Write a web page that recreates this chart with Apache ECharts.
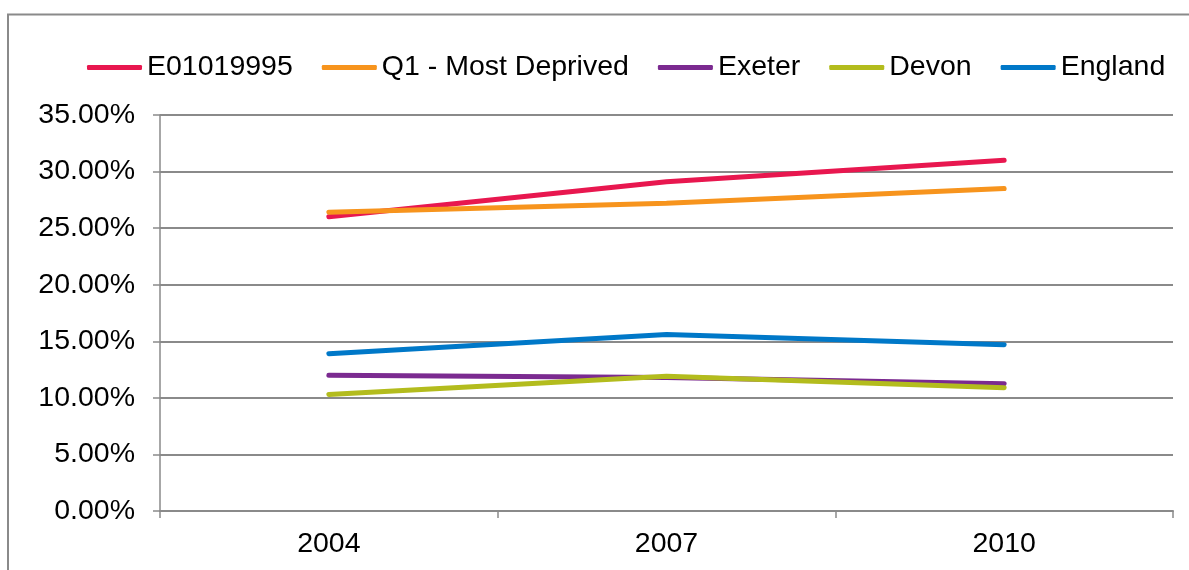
<!DOCTYPE html>
<html><head><meta charset="utf-8">
<script src="https://cdn.jsdelivr.net/npm/echarts@6/dist/echarts.min.js"></script>
<style>html,body{margin:0;padding:0;background:#fff}#c{width:1189px;height:570px}</style>
</head><body><div id="c"></div>
<script>
const categories = ['2004', '2007', '2010'];
const seriesNames = ['E01019995', 'Q1 - Most Deprived', 'Exeter', 'Devon', 'England'];
const e01019995 = [26.0, 29.1, 31.0];
const q1MostDeprived = [26.4, 27.2, 28.5];
const exeter = [12.0, 11.8, 11.25];
const devon = [10.3, 11.9, 10.9];
const england = [13.9, 15.6, 14.7];
const yTicks = [0, 5, 10, 15, 20, 25, 30, 35];
const colors = ['#E8174F', '#F7941D', '#7B2A90', '#B3BC1D', '#0078C8'];
const values = [e01019995, q1MostDeprived, exeter, devon, england];

const font = 'Liberation Sans, Arial, sans-serif';
const fs = 28.5;
const chart = echarts.init(document.getElementById('c'));
chart.setOption({
  animation: false,
  graphic: [{type: 'rect', shape: {x: 8, y: 14.5, width: 1200, height: 600}, style: {fill: 'none', stroke: '#8a8a8a', lineWidth: 2}, silent: true, z: -1}],
  legend: {
    top: 48, left: 82, itemWidth: 55, itemHeight: 5, itemGap: 29, icon: 'roundRect',
    textStyle: {fontFamily: font, fontSize: fs, color: '#000', padding: [0, 0, 0, 0]},
    data: seriesNames
  },
  grid: {left: 160, right: 16, top: 115, bottom: 59},
  xAxis: {
    type: 'category', data: categories, boundaryGap: true,
    axisLine: {lineStyle: {color: '#8a8a8a', width: 2}},
    axisTick: {show: true, length: 7, inside: false, lineStyle: {color: '#8a8a8a', width: 1.5}},
    axisLabel: {fontFamily: font, fontSize: fs, color: '#000', margin: 19}
  },
  yAxis: {
    type: 'value', min: yTicks[0], max: yTicks[yTicks.length - 1], interval: 5,
    axisLine: {show: true, lineStyle: {color: '#8a8a8a', width: 1.5}},
    axisTick: {show: true, length: 7, lineStyle: {color: '#8a8a8a', width: 1.5}},
    splitLine: {lineStyle: {color: '#8a8a8a', width: 2}},
    axisLabel: {fontFamily: font, fontSize: fs, color: '#000', margin: 25, formatter: v => v.toFixed(2) + '%'}
  },
  series: seriesNames.map((n, i) => ({
    name: n, type: 'line', data: values[i], symbol: 'none', color: colors[i],
    lineStyle: {width: 5, color: colors[i], cap: 'round'}
  }))
});
</script></body></html>
